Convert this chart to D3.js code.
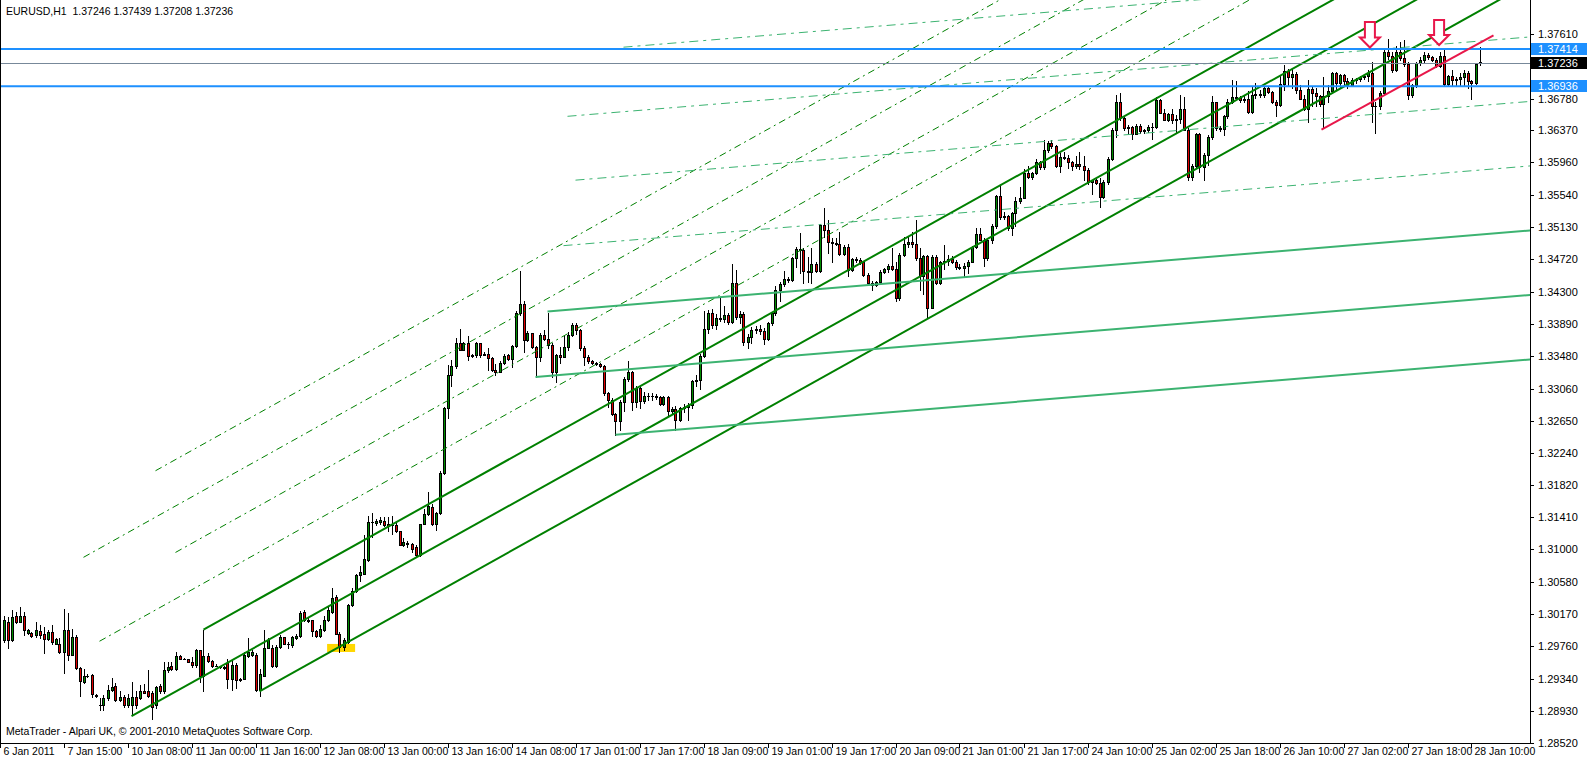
<!DOCTYPE html>
<html><head><meta charset="utf-8">
<script src="https://cdn.jsdelivr.net/npm/d3@7"></script>
<style>html,body{margin:0;padding:0;background:#fff;}svg{display:block;}</style>
</head><body>
<script>
// ---------- DATA ----------
const symbol = "EURUSD,H1";
const candles = [ // [open, high, low, close] per H1 bar
[1.2984,1.3015,1.2981,1.3009],[1.3007,1.3013,1.2973,1.2984],[1.2984,1.3022,1.2983,1.3013],[1.3014,1.3020,1.3006,1.3007],
[1.3007,1.3026,1.3007,1.3015],[1.3015,1.3020,1.2990,1.2996],[1.2993,1.2998,1.2992,1.2997],[1.2993,1.2994,1.2988,1.2989],
[1.2990,1.3007,1.2988,1.2996],[1.2995,1.3003,1.2986,1.2990],[1.2992,1.3001,1.2967,1.2985],[1.2985,1.2996,1.2984,1.2994],
[1.2994,1.3003,1.2979,1.2981],[1.2979,1.2986,1.2978,1.2985],[1.2978,1.2986,1.2967,1.2968],[1.2968,1.3024,1.2941,1.2997],
[1.2997,1.3018,1.2958,1.2965],[1.2965,1.2998,1.2964,1.2988],[1.2988,1.2990,1.2947,1.2948],[1.2948,1.2949,1.2912,1.2931],
[1.2930,1.2947,1.2929,1.2938],[1.2938,1.2940,1.2936,1.2937],[1.2939,1.2940,1.2911,1.2914],[1.2913,1.2914,1.2911,1.2912],
[1.2901,1.2909,1.2894,1.2900],[1.2900,1.2913,1.2894,1.2909],[1.2909,1.2926,1.2907,1.2920],[1.2920,1.2935,1.2918,1.2924],
[1.2925,1.2928,1.2905,1.2907],[1.2907,1.2918,1.2905,1.2911],[1.2911,1.2913,1.2898,1.2900],[1.2900,1.2915,1.2898,1.2910],
[1.2900,1.2930,1.2887,1.2911],[1.2911,1.2918,1.2896,1.2900],[1.2910,1.2926,1.2908,1.2918],[1.2918,1.2927,1.2916,1.2916],
[1.2918,1.2945,1.2911,1.2912],[1.2916,1.2918,1.2883,1.2898],[1.2900,1.2925,1.2897,1.2924],[1.2925,1.2927,1.2916,1.2918],
[1.2918,1.2956,1.2916,1.2945],[1.2945,1.2956,1.2943,1.2949],[1.2950,1.2956,1.2945,1.2946],[1.2946,1.2969,1.2945,1.2963],
[1.2963,1.2965,1.2959,1.2959],[1.2960,1.2961,1.2959,1.2960],[1.2959,1.2960,1.2955,1.2956],[1.2956,1.2962,1.2949,1.2952],
[1.2952,1.2972,1.2949,1.2971],[1.2971,1.2971,1.2930,1.2937],[1.2938,1.2996,1.2918,1.2963],[1.2963,1.2967,1.2956,1.2957],
[1.2957,1.2958,1.2949,1.2951],[1.2951,1.2953,1.2950,1.2950],[1.2950,1.2951,1.2948,1.2949],[1.2949,1.2950,1.2947,1.2948],
[1.2954,1.2960,1.2922,1.2934],[1.2934,1.2960,1.2920,1.2952],[1.2952,1.2954,1.2922,1.2932],[1.2934,1.2935,1.2931,1.2933],
[1.2934,1.2969,1.2934,1.2964],[1.2963,1.2986,1.2962,1.2968],[1.2964,1.2971,1.2963,1.2969],[1.2965,1.2967,1.2918,1.2920],
[1.2920,1.2947,1.2912,1.2940],[1.2938,1.2996,1.2937,1.2974],[1.2974,1.2986,1.2973,1.2984],[1.2974,1.2977,1.2949,1.2951],
[1.2951,1.2977,1.2949,1.2975],[1.2975,1.2990,1.2974,1.2987],[1.2987,1.2988,1.2978,1.2979],[1.2979,1.2981,1.2973,1.2978],
[1.2977,1.2989,1.2975,1.2988],[1.2986,1.2991,1.2985,1.2989],[1.2989,1.3021,1.2988,1.3018],[1.3020,1.3022,1.3008,1.3009],
[1.3009,1.3012,1.3007,1.3008],[1.3009,1.3010,1.2989,1.2995],[1.2995,1.2996,1.2988,1.2989],[1.2989,1.3003,1.2988,1.2998],
[1.2996,1.3015,1.2995,1.3009],[1.3009,1.3026,1.3008,1.3022],[1.3020,1.3050,1.3019,1.3038],[1.3039,1.3041,1.2991,1.2992],
[1.2992,1.2994,1.2969,1.2975],[1.2975,1.2986,1.2971,1.2984],[1.2981,1.3030,1.2980,1.3028],[1.3028,1.3050,1.3027,1.3047],
[1.3047,1.3069,1.3045,1.3067],[1.3067,1.3079,1.3060,1.3071],[1.3069,1.3118,1.3069,1.3087],[1.3086,1.3143,1.3085,1.3135],
[1.3135,1.3147,1.3116,1.3135],[1.3134,1.3139,1.3131,1.3136],[1.3135,1.3141,1.3133,1.3138],[1.3136,1.3141,1.3130,1.3131],
[1.3132,1.3141,1.3124,1.3130],[1.3131,1.3143,1.3120,1.3131],[1.3131,1.3135,1.3122,1.3123],[1.3124,1.3124,1.3105,1.3106],
[1.3106,1.3115,1.3104,1.3110],[1.3108,1.3111,1.3103,1.3107],[1.3107,1.3108,1.3096,1.3101],[1.3103,1.3105,1.3092,1.3093],
[1.3093,1.3133,1.3092,1.3133],[1.3133,1.3152,1.3133,1.3145],[1.3145,1.3173,1.3144,1.3156],[1.3154,1.3158,1.3131,1.3133],
[1.3133,1.3148,1.3125,1.3146],[1.3146,1.3200,1.3145,1.3198],[1.3198,1.3283,1.3196,1.3281],[1.3281,1.3336,1.3268,1.3324],
[1.3324,1.3343,1.3309,1.3335],[1.3335,1.3371,1.3332,1.3364],[1.3364,1.3383,1.3355,1.3356],[1.3356,1.3366,1.3355,1.3364],
[1.3364,1.3373,1.3343,1.3348],[1.3348,1.3351,1.3347,1.3349],[1.3349,1.3366,1.3347,1.3364],[1.3364,1.3365,1.3347,1.3349],
[1.3349,1.3353,1.3349,1.3351],[1.3351,1.3358,1.3330,1.3345],[1.3345,1.3346,1.3329,1.3330],[1.3330,1.3338,1.3324,1.3328],
[1.3328,1.3341,1.3327,1.3339],[1.3339,1.3351,1.3338,1.3348],[1.3349,1.3351,1.3343,1.3344],[1.3344,1.3362,1.3334,1.3361],
[1.3361,1.3405,1.3359,1.3403],[1.3403,1.3457,1.3401,1.3415],[1.3415,1.3418,1.3353,1.3368],[1.3368,1.3380,1.3367,1.3377],
[1.3377,1.3378,1.3358,1.3360],[1.3360,1.3361,1.3321,1.3346],[1.3346,1.3377,1.3341,1.3375],[1.3375,1.3381,1.3368,1.3370],
[1.3370,1.3403,1.3358,1.3362],[1.3362,1.3364,1.3321,1.3327],[1.3327,1.3350,1.3315,1.3349],[1.3349,1.3360,1.3339,1.3347],
[1.3347,1.3375,1.3346,1.3360],[1.3360,1.3379,1.3356,1.3375],[1.3375,1.3390,1.3373,1.3388],[1.3388,1.3390,1.3376,1.3381],
[1.3381,1.3383,1.3356,1.3358],[1.3358,1.3361,1.3336,1.3347],[1.3347,1.3349,1.3339,1.3341],[1.3341,1.3343,1.3337,1.3339],
[1.3339,1.3340,1.3336,1.3338],[1.3338,1.3339,1.3334,1.3335],[1.3335,1.3336,1.3298,1.3300],[1.3300,1.3302,1.3283,1.3292],
[1.3292,1.3294,1.3272,1.3274],[1.3274,1.3275,1.3246,1.3265],[1.3265,1.3292,1.3253,1.3289],[1.3289,1.3321,1.3277,1.3319],
[1.3319,1.3341,1.3316,1.3327],[1.3327,1.3329,1.3279,1.3289],[1.3289,1.3310,1.3283,1.3307],[1.3307,1.3309,1.3281,1.3290],
[1.3290,1.3302,1.3288,1.3297],[1.3297,1.3301,1.3291,1.3296],[1.3296,1.3300,1.3292,1.3297],[1.3297,1.3299,1.3293,1.3295],
[1.3295,1.3297,1.3285,1.3286],[1.3286,1.3296,1.3285,1.3295],[1.3295,1.3297,1.3272,1.3277],[1.3277,1.3283,1.3274,1.3280],
[1.3280,1.3284,1.3253,1.3266],[1.3266,1.3283,1.3264,1.3281],[1.3281,1.3286,1.3276,1.3283],[1.3283,1.3287,1.3266,1.3285],
[1.3285,1.3317,1.3281,1.3316],[1.3316,1.3324,1.3309,1.3317],[1.3317,1.3351,1.3305,1.3348],[1.3348,1.3405,1.3347,1.3383],
[1.3383,1.3407,1.3377,1.3403],[1.3403,1.3408,1.3384,1.3388],[1.3388,1.3402,1.3383,1.3397],[1.3397,1.3422,1.3393,1.3395],
[1.3395,1.3412,1.3392,1.3400],[1.3400,1.3403,1.3389,1.3392],[1.3392,1.3466,1.3390,1.3441],[1.3441,1.3458,1.3395,1.3398],
[1.3398,1.3406,1.3390,1.3402],[1.3402,1.3404,1.3362,1.3366],[1.3366,1.3376,1.3358,1.3372],[1.3372,1.3385,1.3365,1.3381],
[1.3381,1.3386,1.3378,1.3383],[1.3383,1.3388,1.3376,1.3380],[1.3380,1.3384,1.3363,1.3370],[1.3370,1.3392,1.3368,1.3390],
[1.3390,1.3404,1.3388,1.3403],[1.3403,1.3437,1.3400,1.3432],[1.3432,1.3443,1.3419,1.3440],[1.3440,1.3457,1.3438,1.3447],
[1.3447,1.3449,1.3443,1.3445],[1.3445,1.3475,1.3444,1.3474],[1.3474,1.3488,1.3462,1.3485],[1.3485,1.3506,1.3454,1.3484],
[1.3484,1.3486,1.3441,1.3457],[1.3457,1.3475,1.3443,1.3456],[1.3456,1.3486,1.3441,1.3466],[1.3466,1.3468,1.3456,1.3457],
[1.3457,1.3517,1.3455,1.3516],[1.3516,1.3538,1.3501,1.3509],[1.3509,1.3522,1.3480,1.3494],[1.3494,1.3499,1.3469,1.3493],
[1.3493,1.3499,1.3490,1.3492],[1.3492,1.3507,1.3477,1.3479],[1.3479,1.3490,1.3477,1.3488],[1.3488,1.3492,1.3450,1.3458],
[1.3458,1.3473,1.3457,1.3472],[1.3472,1.3475,1.3469,1.3471],[1.3471,1.3473,1.3466,1.3468],[1.3468,1.3469,1.3450,1.3452],
[1.3452,1.3454,1.3441,1.3442],[1.3442,1.3444,1.3433,1.3439],[1.3439,1.3444,1.3437,1.3443],[1.3443,1.3458,1.3440,1.3456],
[1.3456,1.3461,1.3454,1.3459],[1.3459,1.3466,1.3455,1.3463],[1.3463,1.3486,1.3458,1.3459],[1.3459,1.3468,1.3418,1.3422],
[1.3422,1.3480,1.3420,1.3477],[1.3477,1.3501,1.3476,1.3491],[1.3491,1.3501,1.3488,1.3494],[1.3494,1.3507,1.3488,1.3492],
[1.3492,1.3522,1.3471,1.3474],[1.3474,1.3486,1.3432,1.3450],[1.3450,1.3478,1.3428,1.3476],[1.3476,1.3478,1.3396,1.3410],
[1.3410,1.3477,1.3409,1.3475],[1.3475,1.3477,1.3440,1.3442],[1.3442,1.3470,1.3440,1.3468],[1.3468,1.3490,1.3460,1.3470],
[1.3470,1.3478,1.3465,1.3472],[1.3472,1.3476,1.3467,1.3469],[1.3469,1.3471,1.3460,1.3462],[1.3462,1.3466,1.3460,1.3461],
[1.3461,1.3467,1.3450,1.3463],[1.3463,1.3471,1.3454,1.3469],[1.3469,1.3489,1.3468,1.3488],[1.3488,1.3512,1.3486,1.3504],
[1.3504,1.3512,1.3496,1.3497],[1.3497,1.3499,1.3463,1.3473],[1.3473,1.3498,1.3471,1.3496],[1.3496,1.3517,1.3493,1.3515],
[1.3515,1.3554,1.3512,1.3553],[1.3553,1.3566,1.3524,1.3526],[1.3526,1.3533,1.3524,1.3527],[1.3527,1.3529,1.3510,1.3512],
[1.3512,1.3533,1.3503,1.3531],[1.3531,1.3552,1.3514,1.3546],[1.3546,1.3565,1.3544,1.3551],[1.3551,1.3588,1.3550,1.3583],
[1.3583,1.3591,1.3576,1.3578],[1.3578,1.3584,1.3575,1.3582],[1.3582,1.3601,1.3581,1.3597],[1.3597,1.3598,1.3588,1.3590],
[1.3590,1.3625,1.3588,1.3612],[1.3612,1.3623,1.3610,1.3621],[1.3621,1.3625,1.3614,1.3617],[1.3617,1.3619,1.3590,1.3592],
[1.3592,1.3608,1.3584,1.3603],[1.3603,1.3610,1.3600,1.3602],[1.3602,1.3605,1.3589,1.3596],[1.3596,1.3598,1.3586,1.3591],
[1.3591,1.3604,1.3589,1.3594],[1.3594,1.3610,1.3588,1.3591],[1.3591,1.3604,1.3574,1.3586],[1.3586,1.3589,1.3569,1.3571],
[1.3571,1.3574,1.3556,1.3573],[1.3573,1.3575,1.3568,1.3570],[1.3570,1.3576,1.3539,1.3552],[1.3552,1.3573,1.3551,1.3571],
[1.3571,1.3603,1.3569,1.3601],[1.3601,1.3640,1.3599,1.3638],[1.3638,1.3683,1.3629,1.3673],[1.3673,1.3685,1.3651,1.3653],
[1.3653,1.3655,1.3638,1.3640],[1.3640,1.3644,1.3633,1.3641],[1.3641,1.3643,1.3626,1.3633],[1.3633,1.3645,1.3632,1.3643],
[1.3643,1.3645,1.3634,1.3636],[1.3636,1.3639,1.3634,1.3637],[1.3637,1.3644,1.3635,1.3642],[1.3642,1.3646,1.3626,1.3641],
[1.3641,1.3680,1.3640,1.3676],[1.3676,1.3678,1.3659,1.3660],[1.3660,1.3664,1.3650,1.3651],[1.3651,1.3660,1.3649,1.3658],
[1.3658,1.3665,1.3647,1.3650],[1.3650,1.3657,1.3635,1.3652],[1.3652,1.3683,1.3647,1.3664],[1.3664,1.3680,1.3637,1.3638],
[1.3638,1.3640,1.3574,1.3577],[1.3577,1.3594,1.3574,1.3592],[1.3592,1.3634,1.3590,1.3633],[1.3633,1.3634,1.3584,1.3590],
[1.3590,1.3608,1.3574,1.3606],[1.3606,1.3631,1.3593,1.3629],[1.3629,1.3681,1.3626,1.3673],[1.3673,1.3674,1.3638,1.3640],
[1.3640,1.3643,1.3636,1.3639],[1.3639,1.3657,1.3631,1.3656],[1.3656,1.3677,1.3653,1.3673],[1.3673,1.3702,1.3672,1.3680],
[1.3680,1.3700,1.3677,1.3679],[1.3679,1.3681,1.3674,1.3676],[1.3676,1.3681,1.3673,1.3678],[1.3678,1.3687,1.3660,1.3661],
[1.3661,1.3693,1.3660,1.3683],[1.3683,1.3698,1.3679,1.3684],[1.3684,1.3689,1.3680,1.3682],[1.3682,1.3693,1.3680,1.3691],
[1.3691,1.3693,1.3685,1.3686],[1.3686,1.3688,1.3672,1.3673],[1.3673,1.3676,1.3655,1.3670],[1.3670,1.3708,1.3669,1.3697],
[1.3697,1.3721,1.3689,1.3713],[1.3713,1.3716,1.3695,1.3706],[1.3706,1.3717,1.3691,1.3710],[1.3710,1.3712,1.3685,1.3689],
[1.3689,1.3695,1.3677,1.3678],[1.3678,1.3682,1.3663,1.3664],[1.3664,1.3702,1.3648,1.3690],[1.3690,1.3693,1.3668,1.3685],
[1.3685,1.3691,1.3668,1.3681],[1.3681,1.3683,1.3668,1.3671],[1.3671,1.3706,1.3640,1.3681],[1.3681,1.3695,1.3674,1.3688],
[1.3688,1.3712,1.3685,1.3711],[1.3711,1.3712,1.3689,1.3698],[1.3698,1.3710,1.3691,1.3708],[1.3708,1.3710,1.3694,1.3701],
[1.3701,1.3704,1.3692,1.3695],[1.3695,1.3704,1.3694,1.3702],[1.3702,1.3704,1.3698,1.3703],[1.3703,1.3707,1.3701,1.3705],
[1.3705,1.3708,1.3703,1.3707],[1.3707,1.3715,1.3700,1.3711],[1.3711,1.3725,1.3648,1.3668],[1.3668,1.3674,1.3634,1.3669],
[1.3669,1.3687,1.3664,1.3685],[1.3685,1.3740,1.3683,1.3738],[1.3738,1.3754,1.3729,1.3732],[1.3732,1.3737,1.3712,1.3715],
[1.3715,1.3745,1.3713,1.3737],[1.3737,1.3751,1.3728,1.3730],[1.3730,1.3753,1.3720,1.3722],[1.3722,1.3725,1.3677,1.3683],
[1.3683,1.3697,1.3680,1.3695],[1.3695,1.3725,1.3693,1.3723],[1.3723,1.3731,1.3721,1.3727],[1.3727,1.3737,1.3725,1.3734],
[1.3734,1.3736,1.3729,1.3731],[1.3731,1.3733,1.3726,1.3728],[1.3728,1.3730,1.3719,1.3720],[1.3720,1.3737,1.3718,1.3732],
[1.3732,1.3740,1.3695,1.3697],[1.3697,1.3708,1.3695,1.3707],[1.3707,1.3714,1.3695,1.3702],[1.3702,1.3706,1.3695,1.3703],
[1.3703,1.3711,1.3695,1.3705],[1.3705,1.3714,1.3694,1.3711],[1.3711,1.3713,1.3691,1.3700],[1.3700,1.3702,1.3677,1.3698],
[1.3698,1.3723,1.3696,1.3722],[1.37246,1.37439,1.37208,1.37236]
];
const timeLabels = ["6 Jan 2011","7 Jan 15:00","10 Jan 08:00","11 Jan 00:00","11 Jan 16:00","12 Jan 08:00","13 Jan 00:00",
 "13 Jan 16:00","14 Jan 08:00","17 Jan 01:00","17 Jan 17:00","18 Jan 09:00","19 Jan 01:00","19 Jan 17:00","20 Jan 09:00",
 "21 Jan 01:00","21 Jan 17:00","24 Jan 10:00","25 Jan 02:00","25 Jan 18:00","26 Jan 10:00","27 Jan 02:00","27 Jan 18:00","28 Jan 10:00"];
const timeLabelBar = [-1,15,31,47,63,79,95,111,127,143,159,175,191,207,223,239,255,271,287,303,319,335,351,367];
const priceTicks = [1.37610,1.36780,1.36370,1.35960,1.35540,1.35130,1.34720,1.34300,1.33890,1.33480,1.33060,
 1.32650,1.32240,1.31820,1.31410,1.31000,1.30580,1.30170,1.29760,1.29340,1.28930,1.28520];
const hLevels = [1.37414, 1.36936];               // blue horizontal lines
const pitchforkPts = [[32,1.2886],[50,1.2997],[64,1.2918]]; // Andrews' pitchfork anchors [bar, price]
const forkExtLevels = [1,2,3,4];                  // dashed extension lines above the upper tine
const forkExtStart = [24,43,20,38];               // first bar of each extension line
const chanBase = [[133,1.3321],[386,1.3428]];     // base line of the light channel
const chanStep = 0.00827;                         // channel width in price
const chanSolid = [[-1,153],[0,133],[1,136]];     // [level, start bar]
const chanDashed = [[2,140],[3,143],[4,141],[5,155]];
const redLine = [[329.5,1.3638],[372.5,1.3759]];
const arrows = [[341.6,1.37761,1.37434],[358.9,1.37787,1.37466]]; // [bar, top price, tip price]
const yellowZone = [80.9,87.9,1.29787,1.29684];

// ---------- LAYOUT ----------
const W = 1587, H = 758, plotR = 1530, plotB = 743;
const x = d3.scaleLinear().domain([0, candles.length - 1]).range([3.5, 1479.5]);
const y = d3.scaleLinear().domain([1.28517, 1.38043]).range([plotB, 0]);
const FONT = "'Liberation Sans', Arial, sans-serif";

const svg = d3.select("body").append("svg").attr("width", W).attr("height", H)
  .style("font-family", FONT);
svg.append("rect").attr("width", W).attr("height", H).attr("fill", "#fff");
svg.append("clipPath").attr("id", "plot").append("rect")
  .attr("x", 0).attr("y", 0).attr("width", plotR).attr("height", plotB);
const g = svg.append("g").attr("clip-path", "url(#plot)");

// yellow zone
g.append("rect").attr("x", x(yellowZone[0])).attr("width", x(yellowZone[1]) - x(yellowZone[0]))
  .attr("y", y(yellowZone[2])).attr("height", y(yellowZone[3]) - y(yellowZone[2]))
  .attr("fill", "#FFD700");

// candles
const cg = g.append("g").attr("shape-rendering", "crispEdges");
candles.forEach((c, i) => {
  const [o, h, l, cl] = c;
  const cx = Math.round(x(i));
  const yh = Math.round(y(h)), yl = Math.round(y(l));
  cg.append("rect").attr("x", cx).attr("y", yh).attr("width", 1).attr("height", Math.max(1, yl - yh + 1)).attr("fill", "#000");
  const top = Math.round(y(Math.max(o, cl))), bot = Math.round(y(Math.min(o, cl)));
  const hgt = bot - top;
  cg.append("rect").attr("x", cx - 1).attr("y", top).attr("width", 3).attr("height", Math.max(1, hgt + 1)).attr("fill", "#000");
  if (hgt >= 2) {
    cg.append("rect").attr("x", cx).attr("y", top + 1).attr("width", 1).attr("height", hgt - 1)
      .attr("fill", cl >= o ? "#008C00" : "#E00000");
  }
});

const line = d3.line().x(d => x(d[0])).y(d => y(d[1]));
const END = 420;

// pitchfork
const [P1, P2, P3] = pitchforkPts;
const mid = [(P2[0] + P3[0]) / 2, (P2[1] + P3[1]) / 2];
const slope = (mid[1] - P1[1]) / (mid[0] - P1[0]);
const tine = p => [p, [END, p[1] + (END - p[0]) * slope]];
const pA = i => P2[1] + (i - P2[0]) * slope;
const pB = i => P1[1] + (i - P1[0]) * slope;
forkExtLevels.forEach((k, j) => {
  const s = forkExtStart[j];
  const p0 = pA(s) + k * (pA(s) - pB(s));
  g.append("path").attr("d", line([[s, p0], [END, p0 + (END - s) * slope]]))
    .attr("fill", "none").attr("stroke", "#008000").attr("stroke-width", 1).attr("stroke-dasharray", "7,4,2,4");
});
[P1, P2, P3].forEach(p => {
  g.append("path").attr("d", line(tine(p))).attr("fill", "none").attr("stroke", "#008000").attr("stroke-width", 2);
});

// light channel
const cSlope = (chanBase[1][1] - chanBase[0][1]) / (chanBase[1][0] - chanBase[0][0]);
const chanPts = (lvl, s) => {
  const p0 = chanBase[0][1] + (s - chanBase[0][0]) * cSlope + lvl * chanStep;
  return [[s, p0], [END, p0 + (END - s) * cSlope]];
};
chanDashed.forEach(([lvl, s]) => {
  g.append("path").attr("d", line(chanPts(lvl, s))).attr("fill", "none")
    .attr("stroke", "#3CB371").attr("stroke-width", 1).attr("stroke-dasharray", "9,5,3,5");
});
chanSolid.forEach(([lvl, s]) => {
  g.append("path").attr("d", line(chanPts(lvl, s))).attr("fill", "none")
    .attr("stroke", "#3CB371").attr("stroke-width", 2);
});

// horizontal levels
const last = candles[candles.length - 1];
g.append("line").attr("x1", 0).attr("x2", plotR).attr("y1", Math.round(y(last[3])) + 0.5).attr("y2", Math.round(y(last[3])) + 0.5)
  .attr("stroke", "#778899").attr("stroke-width", 1);
hLevels.forEach(v => {
  g.append("line").attr("x1", 0).attr("x2", plotR).attr("y1", y(v)).attr("y2", y(v))
    .attr("stroke", "#1E90FF").attr("stroke-width", 2);
});

// red trend line
g.append("path").attr("d", line(redLine)).attr("fill", "none").attr("stroke", "#E8174A").attr("stroke-width", 2);

// arrows
arrows.forEach(([b, pt, pb]) => {
  const cx = x(b), t = y(pt), bt = y(pb);
  const hh = 10;
  const d = `M${cx-5},${t}L${cx+5},${t}L${cx+5},${bt-hh}L${cx+10},${bt-hh}L${cx},${bt}L${cx-10},${bt-hh}L${cx-5},${bt-hh}Z`;
  g.append("path").attr("d", d).attr("fill", "#fff").attr("stroke", "#E8174A").attr("stroke-width", 2);
});

// frame and axes
const ax = svg.append("g").attr("shape-rendering", "crispEdges");
ax.append("line").attr("x1", 0.5).attr("x2", 0.5).attr("y1", 0).attr("y2", plotB).attr("stroke", "#000");
ax.append("line").attr("x1", plotR + 0.5).attr("x2", plotR + 0.5).attr("y1", 0).attr("y2", plotB + 1).attr("stroke", "#000");
ax.append("line").attr("x1", 0).attr("x2", plotR + 1).attr("y1", plotB + 0.5).attr("y2", plotB + 0.5).attr("stroke", "#000");

const TXT = "11px";
priceTicks.forEach(v => {
  const yy = Math.round(y(v)) + 0.5;
  ax.append("line").attr("x1", plotR).attr("x2", plotR + 4).attr("y1", yy).attr("y2", yy).attr("stroke", "#000");
  svg.append("text").attr("x", plotR + 8).attr("y", yy).attr("dy", "0.35em")
    .attr("font-size", TXT).attr("fill", "#000").text(v.toFixed(5));
});

timeLabels.forEach((t, j) => {
  const xx = Math.round(x(timeLabelBar[j])) + 0.5;
  ax.append("line").attr("x1", xx).attr("x2", xx).attr("y1", plotB).attr("y2", plotB + 5).attr("stroke", "#000");
  svg.append("text").attr("x", xx + 3).attr("y", 755).attr("font-size", "10.5px").attr("fill", "#000").text(t);
});

// price boxes
const box = (v, fill) => {
  const yy = y(v);
  svg.append("rect").attr("x", plotR + 1).attr("y", Math.round(yy) - 6).attr("width", W - plotR).attr("height", 12).attr("fill", fill);
  svg.append("text").attr("x", plotR + 8).attr("y", yy).attr("dy", "0.35em").attr("font-size", TXT)
    .attr("fill", "#fff").text(v.toFixed(5));
};
hLevels.forEach(v => box(v, "#1E90FF"));
box(last[3], "#000");

// header and footer texts
svg.append("text").attr("x", 6).attr("y", 15).attr("font-size", "10.5px").attr("fill", "#000")
  .attr("xml:space", "preserve").style("white-space", "pre")
  .text(`${symbol}  ${last.map(v => v.toFixed(5)).join(" ")}`);
svg.append("text").attr("x", 6).attr("y", 735).attr("font-size", "10.5px").attr("fill", "#000")
  .text("MetaTrader - Alpari UK, \u00A9 2001-2010 MetaQuotes Software Corp.");
</script>
</body></html>
